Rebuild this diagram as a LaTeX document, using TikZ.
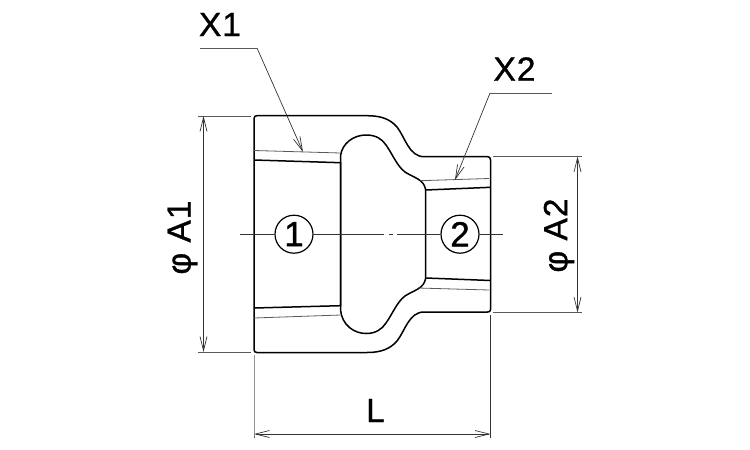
\documentclass[tikz,border=0pt]{standalone}
\usepackage{fontspec}
\setmainfont{Liberation Sans}
\newfontfamily\labelfont{Liberation Sans}[FakeBold=1,LetterSpace=3]
\usetikzlibrary{arrows.meta}

\begin{document}
\begin{tikzpicture}[x=1pt,y=-1pt,>={Straight Barb[length=14pt,width=7pt]},
  main line/.style={line width=1.5pt,black},
  thin line/.style={line width=0.8pt,black!65},
  hair line/.style={line width=0.7pt,black!80},
  main label/.style={font=\labelfont\fontsize{33.5}{33.5}\selectfont,inner sep=0pt},
  port node/.style={circle,draw,line width=1.2pt,minimum size=38pt,inner sep=0pt,font=\labelfont\fontsize{35}{35}\selectfont}]
  \useasboundingbox (0,0) rectangle (750,450);

  \node[port node] (1) at (294,234.2) {1};
  \node[port node] (2) at (460,234.2) {2};
  \node[main label] (x1) at (220,24.5) {X1};
  \node[main label] (x2) at (514.5,69) {X2};
  \node[main label] (l) at (375.5,410.5) {L};
  \node[main label,rotate=90] (a1) at (182.5,237.5) {φ A1};
  \node[main label,rotate=90] (a2) at (559,235.5) {φ A2};

  \coordinate (x1s) at (200,48);
  \coordinate (x1k) at (257,48);
  \coordinate (x1e) at (303,152);
  \coordinate (x2s) at (552,93);
  \coordinate (x2k) at (490,93);
  \coordinate (x2e) at (455,180);
  \coordinate (a1t) at (203.5,116);
  \coordinate (a1b) at (203.5,352);
  \coordinate (a2t) at (577.5,156.5);
  \coordinate (a2b) at (577.5,312.5);
  \coordinate (ll) at (254,434);
  \coordinate (lr) at (490.5,434);

  % body
  \draw[main line] (257,115.7) -- (367,115.7) .. controls (381,115.7) and (390,119) .. (397,127)
    .. controls (405,137) and (409,156.7) .. (424,156.7) -- (487.5,156.7)
    .. controls (489.5,156.7) and (490.5,157.7) .. (490.5,159.7) -- (490.5,309.5)
    .. controls (490.5,311.5) and (489.5,312) .. (487.5,312) -- (424,312)
    .. controls (409,312) and (405,331) .. (397,341) .. controls (390,349) and (381,352.5) .. (367,352.5)
    -- (257,352.5) .. controls (255,352.5) and (254,351.5) .. (254,349.5) -- (254,118.7)
    .. controls (254,116.7) and (255,115.7) .. (257,115.7) -- cycle;
  \draw[main line] (254,160) -- (340.5,162.7) -- (340.5,305.7) -- (254,308);
  \draw[main line] (340.5,156) .. controls (342,143) and (354,135) .. (366,135)
    .. controls (376,135) and (382,139) .. (386,145) .. controls (393,155) and (397,166) .. (405,172)
    .. controls (414,178) and (424,179) .. (425.7,190) -- (425.7,278)
    .. controls (424,289) and (414,290) .. (405,296) .. controls (397,302) and (393,313) .. (386,323)
    .. controls (382,329) and (376,333.5) .. (366,333.5) .. controls (354,333.5) and (342,325) .. (340.5,310) -- (340.5,156);
  \draw[main line] (425.7,190) -- (490.5,187.3);
  \draw[main line] (425.7,278) -- (490.5,280.5);

  \draw[thin line] (254,150.5) -- (340.5,153);
  \draw[thin line] (254,318) -- (340.5,315);
  \draw[thin line] (420,180.7) -- (489,178.5);
  \draw[thin line] (418,288) -- (489,290);

  % center line
  \draw[hair line] (240,234.2) -- (1);
  \draw[hair line] (1) -- (384,234.2);
  \draw[hair line] (389,234.2) -- (393,234.2);
  \draw[hair line] (397,234.2) -- (2);
  \draw[hair line] (2) -- (503,234.2);

  % leaders
  \draw[thin line] (x1s) -- (x1k);
  \draw[hair line,->] (x1k) -- (x1e);
  \draw[thin line] (x2s) -- (x2k);
  \draw[hair line,->] (x2k) -- (x2e);

  % dimensions
  \draw[thin line] (198,116) -- (251,116);
  \draw[thin line] (198,352.5) -- (251,352.5);
  \draw[thin line] (493,156.7) -- (582,156.7);
  \draw[thin line] (493,312) -- (582,312);
  \draw[thin line] (254,355) -- (ll) -- ++(0,4);
  \draw[hair line] (490.5,315) -- (lr) -- ++(0,4);
  \path[hair line,<->]
    (a1t) edge (a1b)
    (a2t) edge (a2b)
    (ll) edge (lr);
\end{tikzpicture}
\end{document}
